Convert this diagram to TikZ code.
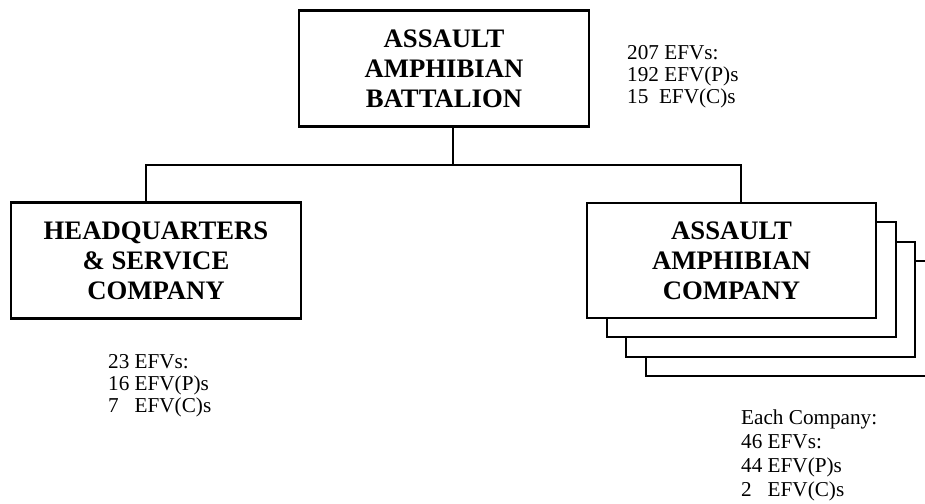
\documentclass[tikz,border=0pt]{standalone}
\usepackage{fontspec}
\setmainfont{Liberation Serif}
\begin{document}
\begin{tikzpicture}[x=1pt,y=-1pt,
  unitbox/.style={draw=black,line width=2.6pt,fill=white,inner sep=0pt,
    align=center,font=\bfseries\fontsize{26.7}{30}\selectfont,
    minimum width=290pt,minimum height=116pt},
  backbox/.style={draw=black,line width=2pt,fill=white,inner sep=0pt,
    minimum width=289pt,minimum height=115pt},
  conn/.style={draw=black,line width=1.5pt},
  count/.style={inner sep=0pt,anchor=base west,align=left,
    font=\fontsize{21.2}{22}\selectfont}]
\useasboundingbox (0,0) rectangle (925,503);
% top
\node[unitbox] (bn) at (444,68.5) {ASSAULT\\AMPHIBIAN\\BATTALION};
\node[unitbox] (hq) at (156,260.5) {HEADQUARTERS\\\&\ SERVICE\\COMPANY};
% company stack
\node[backbox] (c3) at (790.5,318.5) {};
\node[backbox] (c2) at (770,299) {};
\node[backbox] (c1) at (751,279.5) {};
\node[unitbox,minimum width=289pt,minimum height=115pt] (co) at (731.5,260.5) {ASSAULT\\AMPHIBIAN\\COMPANY};
% connectors
\coordinate (j) at (453,165);
\coordinate (hqtap) at (146,165);
\coordinate (cotap) at (741,165);
\draw[conn] (bn.south -| j) -- (j);
\draw[conn] (hq.north -| hqtap) -- (hqtap) -- (cotap) -- (co.north -| cotap);
% counts (anchored at the baseline of their last line)
\node[count,font=\fontsize{21.2}{21.7}\selectfont] (bt) at (627,103) {207 EFVs:\\192 EFV(P)s\\15\ \ EFV(C)s};
\node[count] (ht) at (108,412) {23 EFVs:\\16 EFV(P)s\\\rlap{7}\phantom{16} EFV(C)s};
\node[count,font=\fontsize{21.2}{24}\selectfont] (ct) at (741,496) {Each Company:\\46 EFVs:\\44 EFV(P)s\\\rlap{2}\phantom{44} EFV(C)s};
\end{tikzpicture}
\end{document}
